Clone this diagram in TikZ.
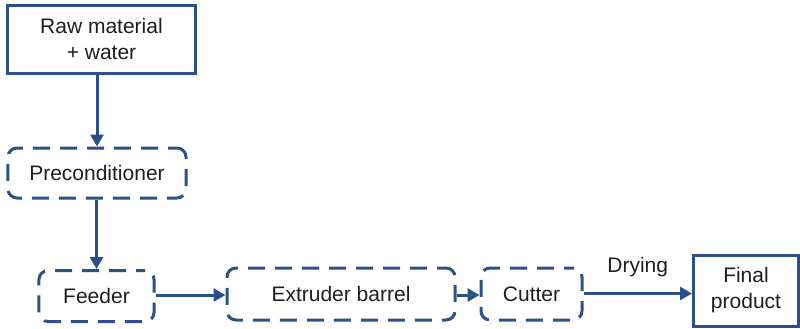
\documentclass[tikz,border=0pt]{standalone}
\usepackage{fontspec}
\setmainfont{Liberation Sans}
\usetikzlibrary{arrows.meta}
\definecolor{lineblue}{RGB}{44,80,138}
\definecolor{txt}{RGB}{30,30,30}
\tikzset{
  solidbox/.style={draw=lineblue, line width=3bp, rectangle, inner sep=0pt, align=center, text=txt},
  dashbox/.style={draw=lineblue, line width=3bp, rectangle, rounded corners=9bp, dash pattern=on 17bp off 10bp, dash phase=8bp, inner sep=0pt, align=center, text=txt},
  flow/.style={draw=lineblue, line width=3bp, -{Triangle[length=12bp,width=13bp]}},
  lbl/.style={text=txt, inner sep=0pt}
}
\begin{document}
\begin{tikzpicture}[x=1bp,y=-1bp, font=\fontsize{21bp}{26bp}\selectfont]
\useasboundingbox (0,0) rectangle (800,328);
\node[solidbox, minimum width=187bp, minimum height=68bp] (raw) at (101.5,39) {Raw material\\+ water};
\node[dashbox, minimum width=178bp, minimum height=50bp] (pre) at (97,173) {Preconditioner};
\node[dashbox, minimum width=115bp, minimum height=51bp] (feed) at (96.5,296) {Feeder};
\node[dashbox, minimum width=228bp, minimum height=52bp] (ext) at (341,294) {Extruder barrel};
\node[dashbox, minimum width=101bp, minimum height=52bp] (cut) at (531.5,294) {Cutter};
\node[solidbox, minimum width=105bp, minimum height=71bp] (fin) at (746,290.5) {Final\\product};
\draw[flow] (raw.south -| pre.north) -- (pre.north);
\draw[flow] (pre.south -| feed.north) -- (feed.north);
\draw[flow] (feed.east |- 0,295) -- (ext.west |- 0,295);
\draw[flow] (ext.east |- 0,295) -- (cut.west |- 0,295);
\draw[flow] (cut.east |- 0,293.5) -- node[lbl, above=15bp] (dry) {Drying} (fin.west |- 0,293.5);
\end{tikzpicture}
\end{document}
